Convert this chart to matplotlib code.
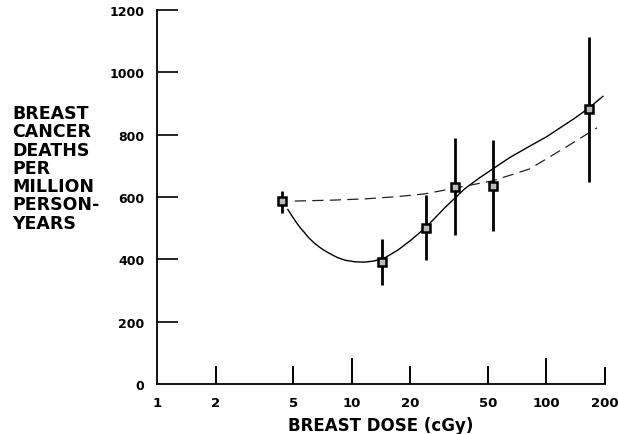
import matplotlib
matplotlib.use("Agg")
import matplotlib.pyplot as plt
from matplotlib.ticker import FixedLocator, NullLocator

# Data points (dose in cGy, deaths per million person-years)
dose = [4.4, 14.3, 24.0, 33.8, 53.0, 165.0]
rate = [588, 392, 502, 633, 636, 882]
err_low = [550, 318, 398, 478, 492, 648]
err_high = [618, 465, 608, 790, 783, 1112]

# Solid fitted curve
fit_x = [4.7, 4.95, 5.2, 5.45, 5.7, 6.0, 6.4, 6.8, 7.3, 7.9, 8.5, 9.3, 10.4, 11.7, 13.1, 15.0,
         17.3, 20.0, 23.9, 27.0, 30.0, 38.0, 45.0, 53.0, 65.0, 82.0, 100.0, 117.0, 140.0, 165.0, 195.0]
fit_y = [560, 538, 518, 501, 487, 470, 453, 440, 427, 415, 405, 397, 392, 391, 395, 407,
         430, 460, 501, 535, 565, 626, 660, 690, 727, 763, 793, 821, 853, 885, 923]

# Dashed linear curve
lin_x = [5.1, 8.0, 11.7, 17.0, 23.7, 33.0, 53.0, 82.0, 126.0, 182.0]
lin_y = [587, 590, 594, 601, 610, 627, 652, 690, 760, 822]

xticks = [1, 2, 5, 10, 20, 50, 100, 200]
xtick_labels = ["1", "2", "5", "10", "20", "50", "100", "200"]
yticks = [0, 200, 400, 600, 800, 1000, 1200]

plt.rcParams['font.family'] = ['DejaVu Sans']
fig = plt.figure(figsize=(6.18, 4.35), dpi=100)
ax = fig.add_axes([157/618, 1-385/435, (605-157)/618, (385-11)/435])

ax.set_xscale('log')
ax.set_xlim(1, 200)
ax.set_ylim(0, 1200)

ax.plot(fit_x, fit_y, color='black', lw=1.0, zorder=3)
ax.plot(lin_x, lin_y, color='#222222', lw=0.9, dashes=(9, 5), zorder=3)

for x, lo, hi in zip(dose, err_low, err_high):
    ax.vlines(x, lo, hi, color='black', lw=2.0, zorder=4)
ax.plot(dose, rate, linestyle='none', marker='s', markersize=5.5,
        markerfacecolor='#bbbbbb', markeredgecolor='black', markeredgewidth=1.8, zorder=5)

for s in ['top', 'right']:
    ax.spines[s].set_visible(False)
for s in ['left', 'bottom']:
    ax.spines[s].set_linewidth(1.3)

ax.xaxis.set_major_locator(FixedLocator(xticks))
ax.xaxis.set_minor_locator(NullLocator())
ax.set_xticklabels(xtick_labels)
ax.set_yticks(yticks)

ax.tick_params(axis='x', which='major', direction='in', length=13, width=1.4,
               pad=9, labelsize=9.5)
ax.tick_params(axis='y', which='major', direction='in', length=15, width=1.2,
               pad=9, labelsize=9)
for lab in ax.get_xticklabels() + ax.get_yticklabels():
    lab.set_fontweight('bold')
# longer ticks at 10 and 100
for t, v in zip(ax.xaxis.get_major_ticks(), xticks):
    if v in (10, 100):
        t.tick1line.set_markersize(19)
    if v == 200:
        t.tick1line.set_markersize(12)
    if v == 1:
        t.tick1line.set_markersize(0)
for t, v in zip(ax.yaxis.get_major_ticks(), yticks):
    if v == 0:
        t.tick1line.set_markersize(0)

ax.set_xlabel("BREAST DOSE (cGy)", fontsize=12, fontweight='bold', labelpad=5)

fig.text(12/618, 1-105/435, "BREAST\nCANCER\nDEATHS\nPER\nMILLION\nPERSON-\nYEARS",
         ha='left', va='top', fontsize=12.5, fontweight='bold', linespacing=1.02)

fig.savefig("out.png", dpi=100)
